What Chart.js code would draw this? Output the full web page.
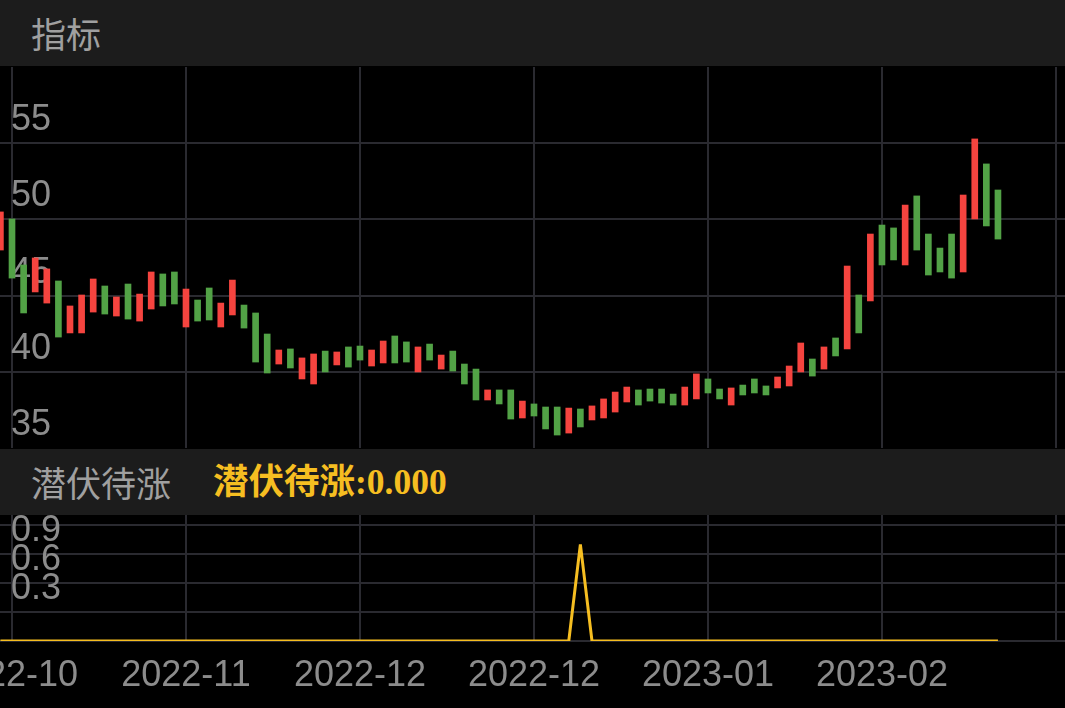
<!DOCTYPE html>
<html lang="zh-CN">
<head>
    <meta charset="UTF-8">
    <title>指标 - 潜伏待涨</title>
    <script src="https://cdn.jsdelivr.net/npm/chart.js@4.4.1/dist/chart.umd.min.js"></script>
    <style>
        body {
            margin: 0;
            width: 1065px;
            height: 708px;
            background: #000;
            overflow: hidden;
            font-family: "Liberation Sans", Arial, "Noto Sans CJK SC", sans-serif;
        }

        .header {
            position: absolute;
            left: 0;
            width: 1065px;
            height: 66px;
            background: #1c1c1c;
            color: #a0a0a0;
            font-family: "Noto Sans CJK SC", sans-serif;
            font-size: 35px;
            line-height: 66px;
        }

        .header .name {
            position: absolute;
            left: 31px;
        }

        .header .value {
            position: absolute;
            left: 213px;
            color: #f6be21;
            font-weight: bold;
            font-size: 35.5px;
            font-family: "Liberation Serif", "Noto Sans CJK SC", serif;
        }

        .panel {
            position: absolute;
            left: 0;
            width: 1065px;
        }
    </style>
</head>
<body>
    <div class="header" style="top: 0;"><span class="name">指标</span></div>
    <div class="panel" style="top: 67px; height: 381px;">
        <canvas id="klineChart"></canvas>
    </div>
    <div class="header" style="top: 449px;">
        <span class="name">潜伏待涨</span>
        <span class="value">潜伏待涨:0.000</span>
    </div>
    <div class="panel" style="top: 515px; height: 193px;">
        <canvas id="signalChart"></canvas>
    </div>

    <script>
        // daily open / close (red = up, green = down)
        const openPrices = [
            47.99, 50.03, 47.01, 45.24, 44.51, 45.96, 42.55, 42.55, 43.92, 45.63,
            43.66, 45.76, 43.33, 44.12, 46.42, 46.55, 42.94, 44.71, 45.50, 42.94,
            43.73, 44.38, 43.86, 42.48, 40.51, 41.50, 39.53, 39.20, 41.36, 40.45,
            41.63, 41.69, 40.38, 40.58, 42.35, 41.96, 39.99, 41.82, 40.18, 41.36,
            40.51, 40.18, 38.15, 38.81, 38.81, 36.97, 37.89, 37.69, 37.69, 35.98,
            37.56, 36.84, 36.97, 37.36, 38.02, 38.81, 38.87, 38.87, 38.54, 37.82,
            38.22, 39.53, 38.87, 37.82, 39.13, 39.53, 39.07, 38.94, 39.07, 39.99,
            40.84, 40.18, 42.22, 41.50, 45.04, 44.65, 49.63, 49.44, 47.01, 51.54,
            49.04, 48.12, 49.04, 46.55, 50.03, 53.64, 51.93
        ];
        const closePrices = [
            50.49, 46.15, 43.86, 47.47, 46.75, 42.28, 44.32, 45.04, 46.09, 43.79,
            44.91, 43.46, 45.10, 46.55, 44.32, 44.45, 45.43, 43.33, 43.40, 44.51,
            46.02, 42.87, 40.64, 39.92, 41.43, 40.25, 40.91, 41.17, 39.99, 41.30,
            40.31, 40.77, 41.43, 42.02, 40.58, 40.64, 41.63, 40.77, 41.10, 40.05,
            39.20, 38.15, 38.81, 37.89, 36.90, 38.08, 37.10, 36.25, 35.85, 37.62,
            36.38, 37.76, 38.22, 38.67, 39.00, 37.82, 38.08, 37.95, 37.82, 39.00,
            39.86, 38.61, 38.22, 38.94, 38.48, 38.61, 38.48, 39.66, 40.38, 41.89,
            39.72, 41.63, 41.04, 46.94, 42.55, 49.04, 47.01, 47.34, 50.94, 47.99,
            46.35, 46.55, 46.15, 51.60, 55.28, 49.57, 48.71
        ];
        // 潜伏待涨 signal, one value per day
        const signalValues = [
            0, 0, 0, 0, 0, 0, 0, 0, 0, 0,
            0, 0, 0, 0, 0, 0, 0, 0, 0, 0,
            0, 0, 0, 0, 0, 0, 0, 0, 0, 0,
            0, 0, 0, 0, 0, 0, 0, 0, 0, 0,
            0, 0, 0, 0, 0, 0, 0, 0, 0, 0,
            1, 0, 0, 0, 0, 0, 0, 0, 0, 0,
            0, 0, 0, 0, 0, 0, 0, 0, 0, 0,
            0, 0, 0, 0, 0, 0, 0, 0, 0, 0,
            0, 0, 0, 0, 0, 0, 0
        ];

        // vertical grid every 15 trading days, with its date label
        const dateTickIndex = [1, 16, 31, 46, 61, 76, 91];
        const dateTickLabels = ['2022-10', '2022-11', '2022-12', '2022-12', '2023-01', '2023-02', ''];
        const priceTicks = [35, 40, 45, 50, 55, 60];
        const signalTicks = [0, 0.3, 0.6, 0.9, 1.2];
        const signalTickLabels = ['', '0.3', '0.6', '0.9', ''];

        const upColor = '#f5443f';
        const downColor = '#52a246';
        const gridColor = '#2a2a30';
        const labelColor = '#8c8c8c';
        const labelFont = { family: '"Liberation Sans", Arial, sans-serif', size: 36 };

        // visible window: first bar is half cut at the left edge
        const xMin = -0.035;
        const xMax = 91.78;

        function fixedTicks(values) {
            return scale => {
                scale.ticks = values.map(v => ({ value: v }));
            };
        }

        // keep the plot area flush with the canvas edges
        function noPadding(size) {
            return scale => {
                if (scale.isHorizontal()) {
                    scale.height = size;
                } else {
                    scale.width = size;
                }
                scale.paddingLeft = 0;
                scale.paddingRight = 0;
                scale.paddingTop = 0;
                scale.paddingBottom = 0;
            };
        }

        new Chart(document.getElementById('klineChart'), {
            type: 'bar',
            data: {
                datasets: [{
                    data: openPrices.map((o, i) => ({ x: i, y: [o, closePrices[i]] })),
                    backgroundColor: openPrices.map((o, i) => closePrices[i] >= o ? upColor : downColor),
                    borderWidth: 0,
                    barThickness: 6
                }]
            },
            options: {
                responsive: true,
                maintainAspectRatio: false,
                animation: false,
                layout: { padding: 0 },
                plugins: {
                    legend: { display: false },
                    tooltip: { enabled: false }
                },
                scales: {
                    x: {
                        type: 'linear',
                        min: xMin,
                        max: xMax,
                        offset: false,
                        afterBuildTicks: fixedTicks(dateTickIndex),
                        afterFit: noPadding(0),
                        ticks: { display: false },
                        grid: { color: gridColor, lineWidth: 2, drawTicks: false, offset: false },
                        border: { display: false }
                    },
                    y: {
                        min: 35,
                        max: 60,
                        afterBuildTicks: fixedTicks(priceTicks),
                        afterFit: noPadding(0),
                        ticks: {
                            mirror: true,
                            padding: 11,
                            labelOffset: -23,
                            autoSkip: false,
                            color: labelColor,
                            font: labelFont,
                            callback: v => v === 60 ? '' : v
                        },
                        grid: {
                            color: ctx => (ctx.tick && (ctx.tick.value === 35 || ctx.tick.value === 60)) ? 'rgba(0,0,0,0)' : gridColor,
                            lineWidth: 2,
                            drawTicks: false
                        },
                        border: { display: false }
                    }
                }
            }
        });

        new Chart(document.getElementById('signalChart'), {
            type: 'line',
            data: {
                datasets: [{
                    data: signalValues.map((v, i) => ({ x: i, y: v })),
                    borderColor: '#f6be21',
                    borderWidth: 3,
                    borderJoinStyle: 'bevel',
                    pointRadius: 0,
                    tension: 0,
                    fill: false
                }]
            },
            options: {
                responsive: true,
                maintainAspectRatio: false,
                animation: false,
                layout: { padding: 0 },
                plugins: {
                    legend: { display: false },
                    tooltip: { enabled: false }
                },
                scales: {
                    x: {
                        type: 'linear',
                        min: xMin,
                        max: xMax,
                        afterBuildTicks: fixedTicks(dateTickIndex),
                        afterFit: noPadding(67),
                        ticks: {
                            autoSkip: false,
                            maxRotation: 0,
                            padding: 13,
                            color: labelColor,
                            font: labelFont,
                            callback: v => dateTickLabels[dateTickIndex.indexOf(v)] || ''
                        },
                        grid: { color: gridColor, lineWidth: 2, drawTicks: false },
                        border: { display: false }
                    },
                    y: {
                        min: 0,
                        max: 1.304,
                        afterBuildTicks: fixedTicks(signalTicks),
                        afterFit: noPadding(0),
                        ticks: {
                            mirror: true,
                            padding: 11,
                            // the app prints each label one grid step higher
                            labelOffset: -23,
                            autoSkip: false,
                            color: labelColor,
                            font: labelFont,
                            callback: (v, i) => signalTickLabels[i]
                        },
                        grid: { color: gridColor, lineWidth: 2, drawTicks: false },
                        border: { display: false }
                    }
                }
            }
        });
    </script>
</body>
</html>
